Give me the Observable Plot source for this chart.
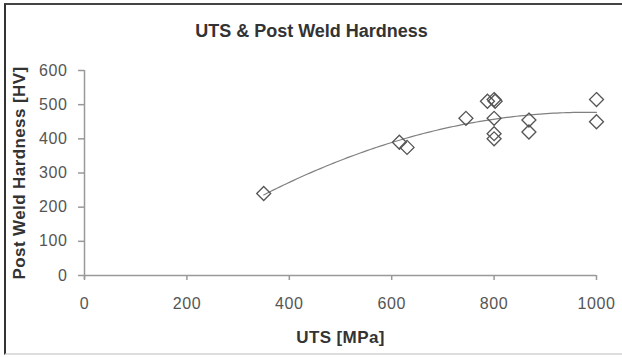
<!DOCTYPE html>
<html>
<head>
<meta charset="utf-8">
<script src="https://cdn.jsdelivr.net/npm/d3@7"></script>
<script src="https://cdn.jsdelivr.net/npm/@observablehq/plot@0.6"></script>
<style>
  html, body { margin: 0; padding: 0; background: #fff; }
  #wrap { position: relative; width: 622px; height: 358px; overflow: hidden; }
  #frame { position: absolute; left: 4px; top: 3px; width: 640px; height: 352px;
           border-left: 2px solid #333; border-top: 2px solid #444; border-bottom: 2px solid #ddd; box-sizing: border-box; }
  #chart { position: absolute; left: 0; top: 0; }
</style>
</head>
<body>
<div id="wrap"><div id="frame"></div><div id="chart"></div></div>
<script>
const uts      = [350, 615, 630, 745, 787, 800, 802, 800, 800, 800, 868, 868, 1000, 1000];
const hardness = [240, 390, 375, 460, 510, 515, 510, 460, 415, 400, 455, 420, 515, 450];
const xTicks = [0, 200, 400, 600, 800, 1000];
const yTicks = [0, 100, 200, 300, 400, 500, 600];
const title = "UTS & Post Weld Hardness";
const xLabel = "UTS [MPa]";
const yLabel = "Post Weld Hardness [HV]";

const points = uts.map((u, i) => ({uts: u, hv: hardness[i]}));

// 2nd-order polynomial least-squares trendline (as the spreadsheet does)
function polyFit(xs, ys) {
  let S = [0,0,0,0,0], T = [0,0,0];
  xs.forEach((x, i) => {
    const y = ys[i];
    for (let k = 0; k < 5; k++) S[k] += Math.pow(x, k);
    for (let k = 0; k < 3; k++) T[k] += y * Math.pow(x, k);
  });
  const A = [[S[0],S[1],S[2],T[0]],[S[1],S[2],S[3],T[1]],[S[2],S[3],S[4],T[2]]];
  for (let i = 0; i < 3; i++) {
    for (let j = i + 1; j < 3; j++) {
      const f = A[j][i] / A[i][i];
      for (let k = i; k < 4; k++) A[j][k] -= f * A[i][k];
    }
  }
  const c = [0,0,0];
  for (let i = 2; i >= 0; i--) {
    let s = A[i][3];
    for (let k = i + 1; k < 3; k++) s -= A[i][k] * c[k];
    c[i] = s / A[i][i];
  }
  return c;
}
const coef = polyFit(uts, hardness);
const xmin = d3.min(uts), xmax = d3.max(uts);
const trend = d3.range(0, 101).map(i => {
  const x = xmin + (xmax - xmin) * i / 100;
  return {uts: x, hv: coef[0] + coef[1] * x + coef[2] * x * x};
});

const chart = Plot.plot({
  width: 622,
  height: 358,
  marginLeft: 84,
  marginRight: 26,
  marginTop: 70,
  marginBottom: 83,
  style: {fontFamily: "Liberation Sans, Arial, sans-serif", fontSize: "16px", color: "#555", background: "transparent"},
  x: {domain: [0, 1000], ticks: xTicks, tickFormat: d => String(d), label: xLabel, labelArrow: "none", labelAnchor: "center", labelOffset: 67, tickSize: 5, tickPadding: 17},
  y: {domain: [0, 600], ticks: yTicks, tickFormat: d => String(d), label: yLabel, labelArrow: "none", labelAnchor: "center", labelOffset: 72, tickSize: 6, tickPadding: 11},
  marks: [
    Plot.ruleY([0], {stroke: "#999", strokeWidth: 1.5}),
    Plot.ruleX([0], {y1: -12, y2: 600, stroke: "#999", strokeWidth: 1.5}),
    Plot.line(trend, {x: "uts", y: "hv", stroke: "#808080", strokeWidth: 1.2}),
    Plot.dot(points, {x: "uts", y: "hv", symbol: "diamond2", r: 6.3, stroke: "#555", strokeWidth: 1.3, fill: "none"}),
    Plot.text([title], {frameAnchor: "top", dx: -29, dy: -46, fontSize: 18, fontWeight: "bold", fill: "#333"})
  ]
});
const svg = d3.select(chart);
svg.selectAll("[aria-label='x-axis label'], [aria-label='y-axis label']")
  .style("font-weight", "bold").style("font-size", "17px").style("letter-spacing", "0.4px").attr("fill", "#333");
svg.selectAll("[aria-label='x-axis tick'], [aria-label='y-axis tick']").attr("stroke", "#999").attr("stroke-width", 1.5);
svg.selectAll("[aria-label='x-axis tick label'], [aria-label='y-axis tick label']").style("letter-spacing", "0.6px");
document.getElementById("chart").appendChild(chart);
</script>
</body>
</html>
